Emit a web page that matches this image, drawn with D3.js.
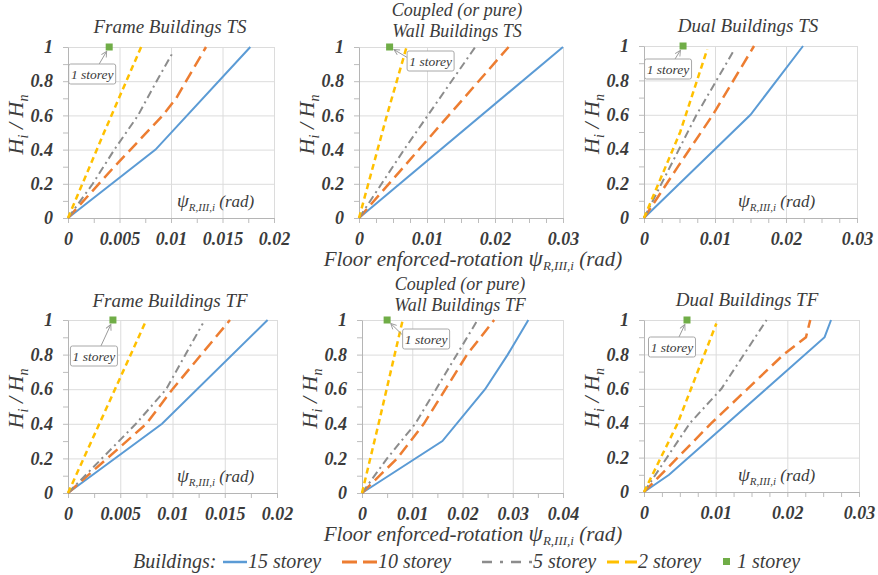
<!DOCTYPE html>
<html>
<head>
<meta charset="utf-8">
<script src="https://cdn.jsdelivr.net/npm/d3@7"></script>
<style>
	body { margin: 0; background: #fff; }
</style>
</head>
<body>
<svg id="chart" width="878" height="575"></svg>
<script>
var seriesNames = ['15 storey', '10 storey', '5 storey', '2 storey', '1 storey'];
var panelTitles = [
	['Frame Buildings TS'],
	['Coupled (or pure)', 'Wall Buildings TS'],
	['Dual Buildings TS'],
	['Frame Buildings TF'],
	['Coupled (or pure)', 'Wall Buildings TF'],
	['Dual Buildings TF']
];
var yTicks = [0, 0.2, 0.4, 0.6, 0.8, 1];
var ticks02 = [0, 0.005, 0.01, 0.015, 0.02];
var ticks03 = [0, 0.01, 0.02, 0.03];
var ticks04 = [0, 0.01, 0.02, 0.03, 0.04];

// each series is a list of [rotation (rad), Hi/Hn]; order 15, 10, 5, 2 storey
var frameTS = [
	[[0, 0], [0.0085, 0.4], [0.0177, 1]],
	[[0, 0], [0.0045, 0.3], [0.0092, 0.6], [0.0105, 0.7], [0.0134, 1]],
	[[0, 0], [0.0024, 0.2], [0.0045, 0.4], [0.0068, 0.6], [0.0086, 0.8], [0.0102, 0.97]],
	[[0, 0], [0.0035, 0.5], [0.0071, 1]]
];
var wallTS = [
	[[0, 0], [0.03, 1]],
	[[0, 0], [0.011, 0.5], [0.022, 1]],
	[[0, 0], [0.0068, 0.41], [0.0171, 1]],
	[[0, 0], [0.0041, 0.6], [0.007, 1]]
];
var dualTS = [
	[[0, 0], [0.015, 0.6], [0.0224, 1]],
	[[0, 0], [0.0048, 0.3], [0.0097, 0.6], [0.0155, 1]],
	[[0, 0], [0.0074, 0.6], [0.0126, 0.97]],
	[[0, 0], [0.0051, 0.5], [0.0089, 0.98]]
];
var frameTF = [
	[[0, 0], [0.009, 0.4], [0.0191, 1]],
	[[0, 0], [0.0075, 0.4], [0.01, 0.6], [0.0155, 1]],
	[[0, 0], [0.0065, 0.4], [0.0094, 0.6], [0.0129, 0.98]],
	[[0, 0], [0.003, 0.4], [0.0075, 1]]
];
var wallTF = [
	[[0, 0], [0.016, 0.3], [0.0245, 0.6], [0.029, 0.8], [0.0331, 1]],
	[[0, 0], [0.007, 0.2], [0.0123, 0.4], [0.0209, 0.8], [0.0263, 1]],
	[[0, 0], [0.005, 0.2], [0.0106, 0.4], [0.023, 1]],
	[[0, 0], [0.0033, 0.4], [0.0081, 1]]
];
var dualTF = [
	[[0, 0], [0.0035, 0.1], [0.0252, 0.9], [0.0261, 1]],
	[[0, 0], [0.0094, 0.4], [0.0195, 0.8], [0.0226, 0.9], [0.0232, 1]],
	[[0, 0], [0.0064, 0.4], [0.0108, 0.6], [0.0171, 1]],
	[[0, 0], [0.0047, 0.4], [0.0101, 0.98]]
];
// 1 storey point per panel
var oneStorey = [[0.004, 1], [0.0045, 1], [0.0055, 1], [0.0043, 1], [0.005, 1], [0.006, 1]];

var styles = [
	{ color: '#5b9bd5', dash: null, width: 2 },
	{ color: '#ed7d31', dash: '12,6', width: 2.5 },
	{ color: '#8c8c8c', dash: '8,4,2,4', width: 2 },
	{ color: '#ffc000', dash: '6,4', width: 2.5 }
];
var oneColor = '#70ad47';
var serif = "'Liberation Serif', 'DejaVu Serif', 'Times New Roman', Times, serif";

var panels = [
	{ rect: [68, 47, 206, 171], xMax: 0.02, ticks: ticks02, minor: 0.0025, series: frameTS, titleX: 170, titleY: [33], box: [-17, 27], psi: 109 },
	{ rect: [359, 47, 204, 171], xMax: 0.03, ticks: ticks03, minor: 0.0025, series: wallTS, titleX: 457, titleY: [16, 37], box: [41, 14], psi: null },
	{ rect: [644, 46, 213, 172], xMax: 0.03, ticks: ticks03, minor: 0.0025, series: dualTS, titleX: 748, titleY: [32], box: [-15, 23], psi: 94 },
	{ rect: [68, 320, 209, 173], xMax: 0.02, ticks: ticks02, minor: 0.0025, series: frameTF, titleX: 170, titleY: [307], box: [-19, 36], psi: 109 },
	{ rect: [362, 320, 201, 173], xMax: 0.04, ticks: ticks04, minor: 0.005, series: wallTF, titleX: 460, titleY: [290, 311], box: [39, 19], psi: null },
	{ rect: [644, 320, 215, 172], xMax: 0.03, ticks: ticks03, minor: 0.0025, series: dualTF, titleX: 747, titleY: [306], box: [-15, 27], psi: 94 }
];

var svg = d3.select('#chart');
svg.append('rect').attr('width', 878).attr('height', 575).attr('fill', '#fff');
svg.append('defs').append('marker')
	.attr('id', 'arrow').attr('viewBox', '0 0 10 10').attr('refX', 9).attr('refY', 5)
	.attr('markerWidth', 7).attr('markerHeight', 7).attr('orient', 'auto')
	.append('path').attr('d', 'M1,1 L9,5 L1,9').attr('fill', 'none').attr('stroke', '#9a9a9a').attr('stroke-width', 1.3);

function fmt(d) { return String(+d.toFixed(4)); }

function psiText(sel, size) {
	sel.append('tspan').text('\u03c8').style('font-size', (size + 2) + 'px');
	sel.append('tspan').text('R,III,i').attr('dy', 4).style('font-size', Math.round(size * 0.62) + 'px');
	sel.append('tspan').text(' (rad)').attr('dy', -4);
}

panels.forEach(function (p, i) {
	var w = p.rect[2], h = p.rect[3];
	var g = svg.append('g').attr('transform', 'translate(' + p.rect[0] + ',' + p.rect[1] + ')');
	var x = d3.scaleLinear().domain([0, p.xMax]).range([0, w]);
	var y = d3.scaleLinear().domain([0, 1]).range([h, 0]);

	// grid
	g.append('g').call(d3.axisLeft(y).tickValues(yTicks.slice(1)).tickSize(-w).tickFormat(''))
		.call(function (a) { a.select('.domain').remove(); a.selectAll('line').attr('stroke', '#dcdcdc'); });
	g.append('g').attr('transform', 'translate(0,' + h + ')')
		.call(d3.axisBottom(x).tickValues(p.ticks.slice(1)).tickSize(-h).tickFormat(''))
		.call(function (a) { a.select('.domain').remove(); a.selectAll('line').attr('stroke', '#dcdcdc'); });

	// minor ticks
	g.append('g').attr('transform', 'translate(0,' + h + ')')
		.call(d3.axisBottom(x).tickValues(d3.range(0, p.xMax + 1e-9, p.minor)).tickSize(5).tickSizeOuter(0).tickFormat(''))
		.call(function (a) { a.select('.domain').remove(); a.selectAll('line').attr('stroke', '#bdbdbd'); });
	g.append('g')
		.call(d3.axisLeft(y).tickValues(d3.range(0, 1.01, 0.1)).tickSize(5).tickSizeOuter(0).tickFormat(''))
		.call(function (a) { a.select('.domain').remove(); a.selectAll('line').attr('stroke', '#bdbdbd'); });

	// axes with labels
	g.append('g').attr('transform', 'translate(0,' + h + ')')
		.call(d3.axisBottom(x).tickValues(p.ticks).tickSize(0).tickSizeOuter(0).tickPadding(14).tickFormat(fmt))
		.call(function (a) { a.select('.domain').attr('stroke', '#b5b5b5'); });
	g.append('g')
		.call(d3.axisLeft(y).tickValues(yTicks).tickSize(0).tickSizeOuter(0).tickPadding(15).tickFormat(fmt))
		.call(function (a) { a.select('.domain').attr('stroke', '#b5b5b5'); });

	// series
	var line = d3.line().x(function (d) { return x(d[0]); }).y(function (d) { return y(d[1]); });
	p.series.forEach(function (s, k) {
		g.append('path').datum(s).attr('d', line)
			.attr('fill', 'none').attr('stroke', styles[k].color)
			.attr('stroke-width', styles[k].width)
			.attr('stroke-dasharray', styles[k].dash);
	});

	// 1 storey point and callout
	var ox = x(oneStorey[i][0]), oy = y(oneStorey[i][1]);
	g.append('rect').attr('x', ox - 3.5).attr('y', oy - 3.5).attr('width', 7).attr('height', 7).attr('fill', oneColor);
	var bx = ox + p.box[0], by = oy + p.box[1], bw = 47, bh = 20;
	var sx, sy;
	if (p.box[0] < 0) { sx = bx + 7; sy = by - bh / 2; } else { sx = bx - bw / 2 + 1; sy = by - 3; }
	var ang = Math.atan2(oy - sy, ox - sx);
	g.append('line').attr('x1', sx).attr('y1', sy)
		.attr('x2', ox - 5 * Math.cos(ang)).attr('y2', oy - 5 * Math.sin(ang))
		.attr('stroke', '#9a9a9a').attr('stroke-width', 1).attr('marker-end', 'url(#arrow)');
	g.append('rect').attr('x', bx - bw / 2).attr('y', by - bh / 2).attr('width', bw).attr('height', bh)
		.attr('rx', 2).attr('fill', '#fff').attr('stroke', '#a8a8a8');
	g.append('text').attr('x', bx).attr('y', by + 4.5).attr('text-anchor', 'middle')
		.style('font-size', '13.5px').text(seriesNames[4]);

	// in-plot axis label
	if (p.psi !== null) {
		g.append('text').attr('x', p.psi).attr('y', h - 11).style('font-size', '17px').call(psiText, 17);
	}

	// y label
	var yl = g.append('text').attr('transform', 'translate(-45,' + (h / 2 - 8) + ') rotate(-90)')
		.attr('text-anchor', 'middle').style('font-size', '22px');
	yl.append('tspan').text('H');
	yl.append('tspan').text('i').attr('dy', 5).style('font-size', '14px');
	yl.append('tspan').text(' / H').attr('dy', -5);
	yl.append('tspan').text('n').attr('dy', 5).style('font-size', '14px');

	// title
	panelTitles[i].forEach(function (t, k) {
		svg.append('text').attr('x', p.titleX).attr('y', p.titleY[k]).attr('text-anchor', 'middle')
			.style('font-size', panelTitles[i].length > 1 ? '18px' : '19px').text(t);
	});
});

// common x labels
[266, 541].forEach(function (yy) {
	svg.append('text').attr('x', 473).attr('y', yy).attr('text-anchor', 'middle').style('font-size', '21px')
		.call(function (t) {
			t.append('tspan').text('Floor enforced-rotation ');
			psiText(t, 21);
		});
});

// legend
var legendY = 568;
svg.append('text').attr('x', 133).attr('y', legendY).style('font-size', '20px').text('Buildings:');
var legendItems = [
	{ x0: 223, x1: 247, tx: 248 },
	{ x0: 342, x1: 377, tx: 378 },
	{ x0: 482, x1: 532, tx: 533 },
	{ x0: 607, x1: 637, tx: 638 }
];
legendItems.forEach(function (it, k) {
	svg.append('line').attr('x1', it.x0).attr('x2', it.x1).attr('y1', legendY - 6).attr('y2', legendY - 6)
		.attr('stroke', styles[k].color).attr('stroke-width', styles[k].width + 0.5)
		.attr('stroke-dasharray', k === 1 ? '15,6' : k === 2 ? '10,8,3,8' : k === 3 ? '12,6' : null);
	svg.append('text').attr('x', it.tx).attr('y', legendY).style('font-size', '20px').text(seriesNames[k]);
});
svg.append('rect').attr('x', 723).attr('y', legendY - 10).attr('width', 7).attr('height', 7).attr('fill', oneColor);
svg.append('text').attr('x', 737).attr('y', legendY).style('font-size', '20px').text(seriesNames[4]);

// fonts for every text, set inline
svg.selectAll('text').style('font-family', serif).style('font-style', 'italic').style('fill', '#3b3b3b');
svg.selectAll('.tick text').style('font-size', '18px').style('font-weight', 'bold');
</script>
</body>
</html>
